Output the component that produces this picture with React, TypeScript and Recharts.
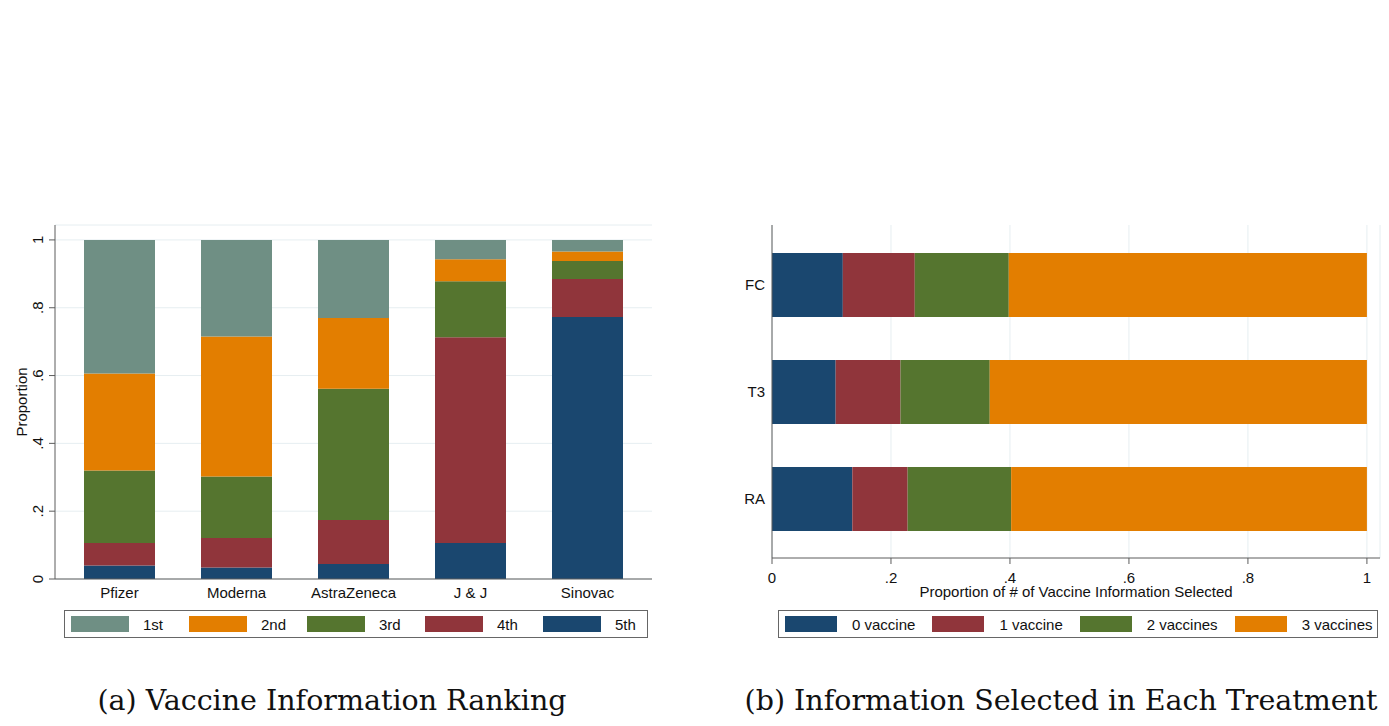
import React from "react";
import { BarChart, Bar, XAxis, YAxis, CartesianGrid, Legend } from "recharts";

// (a) ranking shares per vaccine
const vaccines = ["Pfizer", "Moderna", "AstraZeneca", "J & J", "Sinovac"];
const rank1 = [0.394, 0.285, 0.23, 0.057, 0.034];
const rank2 = [0.286, 0.413, 0.209, 0.065, 0.028];
const rank3 = [0.214, 0.181, 0.387, 0.165, 0.053];
const rank4 = [0.066, 0.087, 0.13, 0.607, 0.112];
const rank5 = [0.04, 0.034, 0.044, 0.106, 0.773];
const rankTicks = [0, 0.2, 0.4, 0.6, 0.8, 1];

// (b) number of vaccines selected per treatment
const treatments = ["FC", "T3", "RA"];
const vacc0 = [0.119, 0.107, 0.135];
const vacc1 = [0.121, 0.109, 0.093];
const vacc2 = [0.158, 0.15, 0.174];
const vacc3 = [0.602, 0.634, 0.598];
const propTicks = [0, 0.2, 0.4, 0.6, 0.8, 1];

const C = {
  teal: "#6f8f84",
  orange: "#e37e00",
  green: "#55752f",
  maroon: "#90353b",
  navy: "#1a476f",
  grid: "#e6eef1",
  axis: "#5c5c5c",
};
const FONT = '"Liberation Sans", Arial, sans-serif';
const FS = 15;

const rankData = vaccines.map((v, i) => ({
  name: v,
  r1: rank1[i],
  r2: rank2[i],
  r3: rank3[i],
  r4: rank4[i],
  r5: rank5[i],
}));

const treatData = treatments.map((t, i) => ({
  name: t,
  v0: vacc0[i],
  v1: vacc1[i],
  v2: vacc2[i],
  v3: vacc3[i],
}));

const fmt = (v: number) => (v === 0 ? "0" : v === 1 ? "1" : String(v).replace(/^0/, ""));

const RotatedTick = (props: any) => {
  const { x, y, payload } = props;
  return (
    <text
      x={x}
      y={y}
      transform={`rotate(-90 ${x} ${y})`}
      textAnchor="middle"
      fontSize={FS}
      fontFamily={FONT}
      fill="#111"
    >
      {fmt(payload.value)}
    </text>
  );
};

const LegendBox = ({
  items,
  swatchW,
  textGap,
  itemW,
  after,
}: {
  items: { label: string; color: string }[];
  swatchW: number;
  textGap: number;
  itemW?: number;
  after?: number;
}) => (
  <div
    style={{
      boxSizing: "border-box",
      height: 28,
      width: "100%",
      border: "1px solid #666",
      display: "flex",
      alignItems: "center",
      paddingLeft: 6,
      fontFamily: FONT,
      fontSize: FS,
      color: "#111",
      whiteSpace: "nowrap",
      background: "#fff",
    }}
  >
    {items.map((it) => (
      <div
        key={it.label}
        style={{
          display: "flex",
          alignItems: "center",
          width: itemW,
          marginRight: itemW ? 0 : after,
          flex: "none",
        }}
      >
        <div style={{ width: swatchW, height: 16, background: it.color, marginRight: textGap }} />
        <span>{it.label}</span>
      </div>
    ))}
  </div>
);

const rankLegend = [
  { label: "1st", color: C.teal },
  { label: "2nd", color: C.orange },
  { label: "3rd", color: C.green },
  { label: "4th", color: C.maroon },
  { label: "5th", color: C.navy },
];

const treatLegend = [
  { label: "0 vaccine", color: C.navy },
  { label: "1 vaccine", color: C.maroon },
  { label: "2 vaccines", color: C.green },
  { label: "3 vaccines", color: C.orange },
];

function RankingChart() {
  return (
    <BarChart
      width={670}
      height={445}
      data={rankData}
      margin={{ top: 25, right: 18, left: 0, bottom: 7 }}
    >
      <CartesianGrid vertical={false} stroke={C.grid} />
      <XAxis
        dataKey="name"
        height={31}
        padding={{ left: 6, right: 6 }}
        tickLine={false}
        tickSize={0}
        tickMargin={8}
        axisLine={{ stroke: C.axis }}
        tick={{ fontSize: FS, fontFamily: FONT, fill: "#111" }}
      />
      <YAxis
        width={55}
        domain={[0, 1.044]}
        ticks={rankTicks}
        tickSize={6}
        tickMargin={6}
        axisLine={{ stroke: C.axis }}
        tickLine={{ stroke: C.axis }}
        tick={<RotatedTick />}
        label={{
          value: "Proportion",
          content: (p: any) => {
            const vb = p.viewBox || { y: 25, height: 354 };
            const cy = vb.y + vb.height / 2;
            return (
              <text
                x={27}
                y={cy}
                transform={`rotate(-90 27 ${cy})`}
                textAnchor="middle"
                fontSize={FS}
                fontFamily={FONT}
                fill="#111"
              >
                Proportion
              </text>
            );
          },
        }}
      />
      <Legend
        verticalAlign="bottom"
        wrapperStyle={{ left: 64, width: 584, bottom: 7 }}
        content={() => <LegendBox items={rankLegend} swatchW={58} textGap={14} itemW={118} />}
      />
      <Bar dataKey="r5" stackId="a" fill={C.navy} barSize={71} isAnimationActive={false} />
      <Bar dataKey="r4" stackId="a" fill={C.maroon} barSize={71} isAnimationActive={false} />
      <Bar dataKey="r3" stackId="a" fill={C.green} barSize={71} isAnimationActive={false} />
      <Bar dataKey="r2" stackId="a" fill={C.orange} barSize={71} isAnimationActive={false} />
      <Bar dataKey="r1" stackId="a" fill={C.teal} barSize={71} isAnimationActive={false} />
    </BarChart>
  );
}

function TreatmentChart() {
  return (
    <BarChart
      width={689}
      height={445}
      data={treatData}
      layout="vertical"
      margin={{ top: 25, right: 9, left: 0, bottom: 7 }}
    >
      <CartesianGrid horizontal={false} stroke={C.grid} />
      <XAxis
        type="number"
        height={52}
        domain={[0, 1.022]}
        ticks={propTicks}
        tickFormatter={fmt}
        tickSize={6}
        tickMargin={8}
        axisLine={{ stroke: C.axis }}
        tickLine={{ stroke: C.axis }}
        tick={{ fontSize: FS, fontFamily: FONT, fill: "#111" }}
        label={{
          value: "Proportion of # of Vaccine Information Selected",
          position: "insideBottom",
          offset: 13,
          fontSize: FS,
          fontFamily: FONT,
          fill: "#111",
        }}
      />
      <YAxis
        type="category"
        dataKey="name"
        width={72}
        padding={{ top: 6, bottom: 6 }}
        tickLine={false}
        tickSize={0}
        tickMargin={7}
        axisLine={{ stroke: C.axis }}
        tick={{ fontSize: FS, fontFamily: FONT, fill: "#111" }}
      />
      <Legend
        verticalAlign="bottom"
        wrapperStyle={{ left: 78, width: 600, bottom: 7 }}
        content={() => <LegendBox items={treatLegend} swatchW={52} textGap={15} after={17} />}
      />
      <Bar dataKey="v0" stackId="b" fill={C.navy} barSize={64} isAnimationActive={false} />
      <Bar dataKey="v1" stackId="b" fill={C.maroon} barSize={64} isAnimationActive={false} />
      <Bar dataKey="v2" stackId="b" fill={C.green} barSize={64} isAnimationActive={false} />
      <Bar dataKey="v3" stackId="b" fill={C.orange} barSize={64} isAnimationActive={false} />
    </BarChart>
  );
}

const captionStyle: React.CSSProperties = {
  position: "absolute",
  top: 683,
  width: 700,
  textAlign: "center",
  fontFamily: '"DejaVu Serif", serif',
  fontSize: 28.5,
  lineHeight: "36px",
  color: "#111",
  whiteSpace: "nowrap",
};

export default function App() {
  return (
    <div
      style={{
        position: "absolute",
        left: 0,
        top: 0,
        width: 1389,
        height: 726,
        background: "#fff",
        overflow: "hidden",
      }}
    >
      <div style={{ position: "absolute", left: 0, top: 200 }}>
        <RankingChart />
      </div>
      <div style={{ position: "absolute", left: 700, top: 200 }}>
        <TreatmentChart />
      </div>
      <div style={{ ...captionStyle, left: 332 - 350 }}>(a) Vaccine Information Ranking</div>
      <div style={{ ...captionStyle, left: 1061 - 350 }}>(b) Information Selected in Each Treatment</div>
    </div>
  );
}
